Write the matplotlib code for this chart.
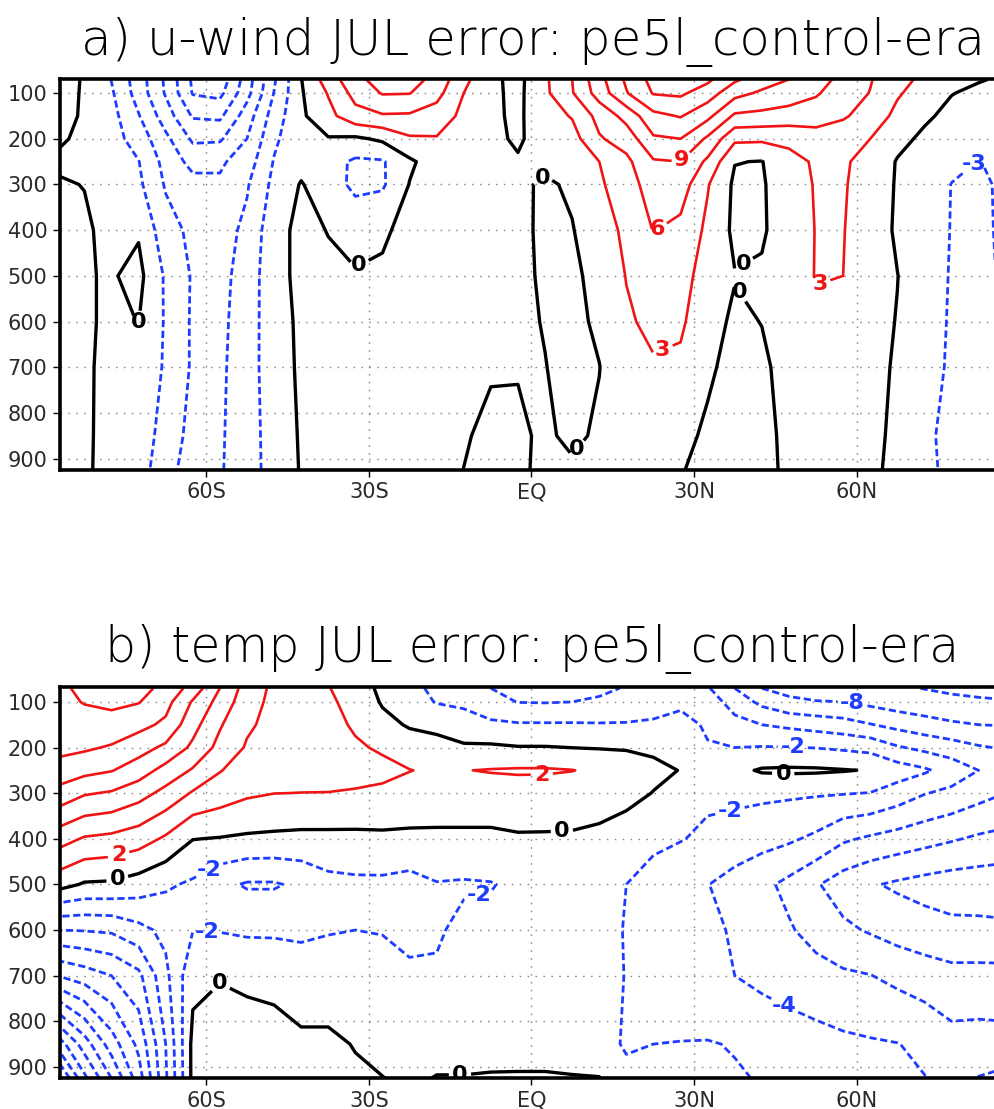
import numpy as np
import matplotlib
matplotlib.use("Agg")
import matplotlib.pyplot as plt

plt.rcParams['axes.unicode_minus'] = False
plt.rcParams['font.family'] = ['DejaVu Sans']

# zonal-mean grid
lats = np.arange(-87.5, 90.0, 5.0)
levs = [70, 100, 150, 200, 250, 300, 400, 500, 600, 700, 850, 925]

lat_ticks = [-60, -30, 0, 30, 60]
lat_labels = ['60S', '30S', 'EQ', '30N', '60N']
p_ticks = [100, 200, 300, 400, 500, 600, 700, 800, 900]

# u-wind error (m/s), one profile per latitude, levels as in `levs`
u_profiles = [
    [1.0, 0.8, 0.6, 0.3, -0.3, 0.2, 0.6, 0.8, 0.8, 0.8, 0.8, 0.6],
    [-0.2, -0.2, -0.2, -0.4, -0.6, -0.05, 0.3, 0.2, 0.4, 0.5, 0.5, 0.4],
    [-3.1, -2.6, -2.0, -1.8, -1.6, -1.3, -0.6, -0.25, -0.5, -0.9, -1.0, -0.9],
    [-7.5, -7.3, -5.8, -4.3, -2.9, -2.4, -0.3, 0.8, 0.05, -1.2, -1.3, -1.5],
    [-12.5, -12.3, -10.5, -8.3, -7.0, -6.3, -4.8, -3.4, -3.3, -3.3, -4.2, -5.1],
    [-18.5, -18.2, -15.3, -12.5, -10.0, -8.0, -6.7, -6.3, -6.4, -6.4, -7.0, -7.2],
    [-20.0, -18.8, -15.6, -12.4, -9.5, -8.5, -7.3, -7.0, -6.8, -6.6, -6.4, -6.3],
    [-13.5, -13.0, -10.5, -9.0, -7.5, -6.3, -5.3, -4.6, -4.3, -4.2, -4.2, -4.2],
    [-6.4, -5.9, -4.6, -3.6, -2.8, -2.2, -1.1, -1.1, -1.4, -1.5, -1.8, -1.9],
    [-0.1, -0.3, -0.5, -0.6, -1.0, 0.2, 0.8, 0.8, 0.6, 0.5, 0.3, 0.2],
    [4.5, 3.2, 2.1, -0.2, -1.8, -1.8, -0.1, 0.6, 0.8, 0.9, 0.8, 0.8],
    [8.0, 7.0, 5.0, -0.5, -3.5, -3.6, -1.3, 0.3, 0.8, 1.0, 1.0, 1.0],
    [10.5, 9.2, 5.7, 0.5, -3.3, -3.4, -0.4, 0.4, 1.0, 1.2, 1.2, 1.3],
    [10.3, 9.1, 5.6, 2.6, -0.5, 0.1, 0.8, 1.0, 1.2, 1.3, 1.3, 1.3],
    [8.0, 7.0, 4.6, 2.8, 1.5, 1.3, 1.2, 1.2, 1.2, 1.2, 1.0, 0.9],
    [3.8, 3.0, 2.3, 1.8, 1.4, 1.2, 1.2, 1.2, 1.0, 0.6, 0.2, -0.02],
    [0.6, 0.6, 0.5, 0.5, 0.5, 0.6, 0.8, 0.8, 0.6, 0.2, -0.5, -0.6],
    [-0.8, -0.7, -0.5, -0.3, 0.2, 0.4, 0.5, 0.5, 0.4, 0.1, -0.3, -0.4],
    [2.5, 2.4, 1.8, 1.0, 0.5, -0.3, -0.4, -0.3, -0.1, 0.05, 0.3, 0.5],
    [6.0, 5.8, 3.2, 1.8, 1.0, 0.3, -0.1, -0.5, -0.6, -0.6, -0.4, 0.3],
    [11.0, 10.3, 7.0, 5.7, 3.0, 2.6, 1.2, 0.8, 0.4, -0.05, 0.3, 0.6],
    [15.5, 14.8, 10.0, 7.3, 5.3, 4.5, 3.8, 3.1, 2.6, 1.6, 1.0, 0.8],
    [19.0, 18.2, 14.2, 11.6, 8.7, 7.6, 6.1, 4.8, 3.7, 2.7, 1.5, 1.0],
    [19.8, 18.5, 15.2, 12.0, 9.0, 7.5, 5.2, 4.3, 3.5, 2.4, 0.5, 0.1],
    [18.6, 16.5, 12.8, 8.5, 5.4, 3.2, 2.4, 1.5, 0.9, 0.3, -0.3, -0.5],
    [15.5, 13.0, 8.5, 3.6, 0.1, -0.5, -0.6, 0.1, -0.4, -0.6, -0.8, -0.9],
    [13.5, 11.5, 8.2, 3.5, -0.1, -0.3, -0.3, 0.3, 0.05, -0.4, -0.6, -0.6],
    [12.0, 10.5, 7.8, 3.6, 2.2, 1.7, 1.3, 1.2, 1.0, 0.8, 0.5, 0.4],
    [10.3, 9.3, 7.5, 4.5, 3.3, 3.2, 3.1, 3.15, 2.4, 1.8, 1.3, 1.0],
    [8.1, 7.5, 6.4, 4.0, 3.3, 3.2, 3.1, 3.0, 2.2, 1.7, 1.2, 1.0],
    [6.2, 5.9, 4.6, 3.0, 2.2, 2.0, 1.6, 1.2, 0.9, 0.8, 0.5, 0.4],
    [3.9, 3.3, 2.3, 0.9, -0.2, -0.3, -0.4, 0.05, -0.1, -0.3, -0.4, -0.5],
    [2.4, 1.8, 0.5, -0.6, -1.2, -1.4, -1.6, -1.6, -1.7, -1.9, -2.5, -2.0],
    [1.1, 0.1, -0.8, -1.6, -2.4, -3.05, -3.1, -3.2, -3.3, -3.4, -3.7, -4.0],
    [0.2, -0.6, -1.5, -2.3, -3.05, -3.4, -3.6, -3.7, -3.8, -4.0, -4.3, -4.4],
    [-0.4, -1.0, -1.8, -2.3, -2.6, -2.6, -2.5, -2.6, -2.8, -3.2, -3.5, -3.6],
]

# temperature error (K), same layout
t_profiles = [
    [13.5, 13.4, 13.0, 12.6, 11.2, 9.4, 4.9, 0.8, -6.0, -12.0, -23.3, -29.0],
    [14.5, 14.1, 13.2, 12.3, 10.6, 8.2, 3.8, -0.2, -5.9, -11.0, -19.0, -22.5],
    [14.8, 14.4, 13.3, 11.8, 10.1, 7.8, 3.5, -0.3, -5.7, -10.0, -15.0, -18.0],
    [14.6, 14.1, 12.6, 10.8, 9.0, 6.8, 2.9, -0.9, -4.6, -8.5, -11.5, -13.0],
    [13.5, 12.7, 11.6, 9.6, 7.3, 5.4, 1.7, -1.7, -3.5, -4.5, -6.0, -6.3],
    [11.2, 9.8, 8.7, 7.6, 5.8, 3.8, 0.05, -2.3, -2.05, -0.5, 0.5, 0.5],
    [8.0, 7.3, 6.2, 5.4, 4.1, 3.0, -0.1, -3.5, -2.1, -0.1, 0.8, 0.9],
    [5.1, 4.8, 4.3, 3.8, 3.1, 2.3, -0.3, -4.2, -2.3, -0.4, 0.9, 1.0],
    [3.6, 3.5, 3.4, 3.3, 3.0, 2.02, -0.4, -4.2, -2.3, -0.6, 0.8, 0.9],
    [3.0, 3.0, 3.0, 2.9, 2.7, 1.98, -0.5, -3.6, -2.3, -1.2, 0.4, 0.7],
    [2.1, 2.3, 2.5, 2.6, 2.6, 1.97, -0.5, -2.6, -2.1, -1.2, 0.4, 0.5],
    [0.9, 1.4, 1.8, 2.2, 2.4, 1.9, -0.5, -2.4, -2.0, -1.4, -0.1, 0.3],
    [-0.4, -0.2, 0.6, 1.8, 2.4, 1.7, -0.4, -2.4, -2.05, -1.6, -0.7, 0.05],
    [-1.5, -1.2, -0.2, 1.0, 2.05, 1.3, -0.4, -2.7, -2.3, -1.8, -0.9, -0.4],
    [-2.4, -2.1, -0.6, 0.8, 1.7, 1.2, -0.4, -2.1, -2.2, -1.8, -0.9, 0.1],
    [-3.3, -2.3, -1.3, 0.3, 1.95, 1.2, -0.4, -2.2, -1.6, -1.5, -0.9, 0.1],
    [-4.0, -3.4, -1.6, 0.3, 2.1, 1.2, -0.4, -2.1, -1.5, -1.4, -0.9, 0.2],
    [-4.4, -4.05, -1.8, 0.1, 2.2, 1.2, -0.2, -1.6, -1.4, -1.3, -0.8, 0.2],
    [-4.5, -4.1, -1.8, 0.1, 2.2, 1.1, -0.2, -1.2, -1.3, -1.3, -0.8, 0.2],
    [-4.5, -4.0, -1.8, -0.02, 2.05, 0.9, -0.2, -1.1, -1.2, -1.2, -0.8, 0.1],
    [-4.3, -3.8, -1.85, -0.1, 1.6, 0.8, -0.4, -1.3, -1.4, -1.5, -1.0, 0.05],
    [-3.9, -3.3, -1.85, -0.15, 1.0, 0.5, -0.8, -2.0, -2.1, -2.05, -2.3, -1.3],
    [-3.4, -2.6, -1.8, -0.3, 0.4, -0.05, -1.6, -2.7, -2.6, -2.6, -2.0, -1.5],
    [-3.2, -2.3, -1.5, -0.9, -0.05, -0.9, -1.9, -3.4, -3.1, -3.1, -1.95, -1.6],
    [-3.8, -3.0, -2.2, -1.9, -1.0, -1.6, -2.4, -3.95, -3.6, -3.6, -1.9, -1.7],
    [-6.0, -4.8, -3.4, -2.0, -0.5, -1.5, -2.9, -4.7, -4.2, -4.0, -2.1, -1.85],
    [-8.0, -6.5, -4.0, -1.9, 0.2, -1.6, -3.3, -5.5, -5.0, -4.5, -2.6, -2.1],
    [-8.6, -7.6, -4.4, -1.95, 0.3, -1.7, -3.7, -6.5, -5.8, -4.9, -3.0, -2.5],
    [-9.0, -7.9, -4.8, -2.05, 0.25, -1.8, -4.4, -7.8, -6.7, -5.3, -3.3, -2.8],
    [-9.3, -8.0, -5.2, -2.3, 0.1, -1.9, -5.7, -9.0, -7.6, -5.7, -3.6, -3.1],
    [-9.5, -8.5, -5.9, -2.6, -0.1, -2.05, -6.3, -9.8, -8.2, -5.95, -3.8, -3.4],
    [-9.7, -9.0, -6.6, -3.8, -1.0, -2.9, -6.8, -10.3, -8.8, -6.5, -3.95, -3.7],
    [-10.05, -9.3, -7.2, -4.5, -1.7, -3.9, -7.3, -10.7, -9.2, -7.0, -4.4, -3.95],
    [-10.3, -9.6, -7.7, -5.1, -2.8, -4.5, -7.8, -11.0, -9.5, -7.4, -5.3, -4.4],
    [-10.4, -9.8, -8.0, -5.8, -4.0, -5.3, -8.3, -11.1, -9.5, -7.4, -5.2, -6.05],
    [-10.5, -9.9, -8.1, -6.2, -4.6, -6.0, -8.6, -11.2, -9.6, -7.4, -5.3, -6.3],
]

# where the contour labels sit (lat, hPa)
u_label_pos = [(-72.3, 601), (-31.7, 481), (1.5, 275), (9.3, 888), (39.0, 472),
               (39.0, 531), (27.7, 246), (24.2, 415), (24.2, 663), (53.8, 538),
               (80.3, 235)]
t_label_pos = [(-75.9, 448), (-76.3, 494), (-59.9, 457), (-59.9, 598), (-57.5, 714),
               (-13.2, 899), (-9.5, 533), (1.9, 261), (5.6, 381), (36.6, 338),
               (46.4, 277), (48.2, 200), (59.3, 99), (47.1, 757)]

RED = '#f01414'
BLUE = '#1e3cff'
DASH = (0, (2.6, 1.3))


def draw_panel(ax, profiles, step, label_pos):
    field = np.array(profiles).T
    top = step * 16
    neg = np.arange(-top, 0, step)
    pos = np.arange(step, top + step, step)

    ax.set_xlim(-87, 87)
    ax.set_ylim(925, 68)

    cs_n = ax.contour(lats, levs, field, levels=neg, colors=BLUE,
                      linewidths=2.0, linestyles=[DASH])
    cs_z = ax.contour(lats, levs, field, levels=[0], colors='black',
                      linewidths=2.4, linestyles='solid')
    cs_p = ax.contour(lats, levs, field, levels=pos, colors=RED,
                      linewidths=1.9, linestyles='solid')

    # put each label on whichever line set is nearest on screen
    for x, y in label_pos:
        px, py = ax.transData.transform((x, y))
        best = None
        for cs in (cs_n, cs_z, cs_p):
            try:
                res = cs.find_nearest_contour(px, py, pixel=True)
            except Exception:
                continue
            if res is None:
                continue
            d = res[-1]
            if best is None or d < best[0]:
                best = (d, cs)
        if best is not None:
            best[1].clabel(fmt='%d', manual=[(x, y)], inline=True,
                           fontsize=16, inline_spacing=4)
    for cs in (cs_n, cs_z, cs_p):
        for t in cs.labelTexts:
            t.set_fontweight('bold')
            t.set_rotation(0)

    ax.set_xticks(lat_ticks, lat_labels)
    ax.set_yticks(p_ticks)
    ax.grid(True, color='#8c8c8c', linestyle=(0, (1.2, 4.5)), linewidth=1.0)
    ax.tick_params(direction='out', length=5, width=1.0, labelsize=15,
                   labelcolor='#2a2a2a', pad=4)
    for s in ax.spines.values():
        s.set_linewidth(2.6)
    ax.set_axisbelow(True)


def add_title(fig, text, y_base, width_px):
    t = fig.text(0.5352, y_base, text, ha='center', va='baseline',
                 fontsize=34, fontweight='light', color='black')
    fig.canvas.draw()
    w = t.get_window_extent().width
    t.set_fontsize(34 * width_px / w)


fig = plt.figure(figsize=(9.95, 11.09), dpi=100)
ax_u = fig.add_axes([60 / 995, 1 - 470 / 1109, 943 / 995, 391.5 / 1109])
ax_t = fig.add_axes([60 / 995, 1 - 1078.3 / 1109, 943 / 995, 391 / 1109])

draw_panel(ax_u, u_profiles, 3, u_label_pos)
draw_panel(ax_t, t_profiles, 2, t_label_pos)

add_title(fig, 'a) u-wind JUL error: pe5l_control-era', 1 - 55 / 1109, 905)
add_title(fig, 'b) temp JUL error: pe5l_control-era', 1 - 662.5 / 1109, 855)

fig.savefig('out.png', dpi=100)
